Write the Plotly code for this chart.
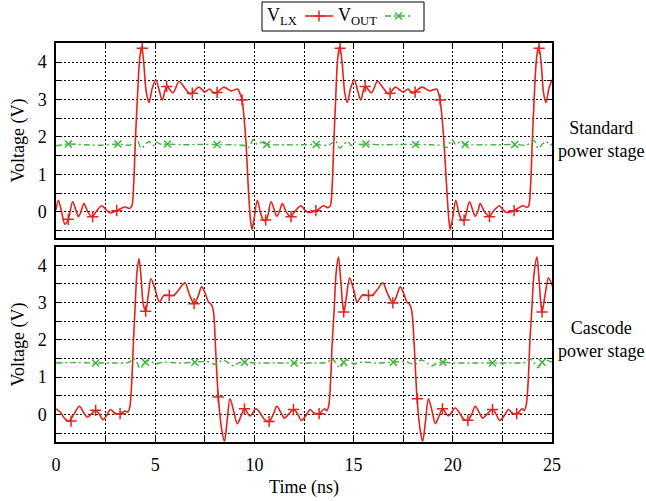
import plotly.graph_objects as go

# ---------------- data ----------------
# Standard power stage: V_LX (red) curve
vlx_std_t = [0.0, 0.12, 0.3, 0.45, 0.62, 0.84, 1.0, 1.13, 1.27, 1.41, 1.6, 1.82, 2.05, 2.3, 2.5, 2.72, 3.06, 3.25, 3.48, 3.7, 3.82,
             3.92, 4.0, 4.1, 4.22, 4.32, 4.42, 4.55, 4.69, 4.85, 5.03, 5.2, 5.36, 5.58, 5.9, 6.2, 6.5, 6.75, 6.87, 7.2, 7.5, 7.75, 7.95,
             8.12, 8.45, 8.85, 9.15, 9.3, 9.38, 9.48, 9.57, 9.7, 9.8, 9.88, 9.98,
             10.15, 10.3, 10.45, 10.6, 10.84, 11.0, 11.13, 11.27, 11.41, 11.6, 11.83, 12.05, 12.35, 12.5, 12.72, 13.1, 13.25, 13.48, 13.7, 13.82,
             13.92, 14.0, 14.08, 14.2, 14.3, 14.42, 14.55, 14.68, 14.85, 15.03, 15.2, 15.36, 15.58, 15.9, 16.2, 16.5, 16.75, 16.84, 17.1, 17.5, 17.75, 17.95,
             18.1, 18.45, 18.85, 19.19, 19.3, 19.36, 19.46, 19.55, 19.7, 19.8, 19.87, 19.98,
             20.15, 20.3, 20.45, 20.57, 20.84, 21.0, 21.13, 21.27, 21.38, 21.6, 21.85, 22.05, 22.35, 22.5, 22.72, 23.09, 23.25, 23.53, 23.72, 23.82,
             23.92, 24.0, 24.1, 24.22, 24.33, 24.45, 24.57, 24.69, 24.85, 25.0]
vlx_std_v = [0.05, 0.31, -0.05, -0.33, -0.2, 0.27, 0.05, -0.13, 0.02, 0.22, 0.0, -0.13, 0.02, 0.16, 0.07, -0.03, 0.03, 0.08, 0.13, 0.09, 0.15,
             0.8, 1.9, 3.0, 4.1, 4.42, 4.0, 3.2, 2.92, 3.3, 3.53, 3.25, 2.99, 3.35, 3.18, 3.48, 3.3, 3.15, 3.17, 3.33, 3.2, 3.28, 3.17,
             3.19, 3.33, 3.23, 3.28, 3.12, 2.99, 2.5, 1.9, 0.58, -0.2, -0.47, -0.2,
             0.31, -0.02, -0.22, -0.22, 0.27, 0.05, -0.12, 0.02, 0.22, 0.0, -0.13, 0.02, 0.16, 0.07, -0.02, 0.03, 0.08, 0.16, 0.11, 0.15,
             0.7, 1.8, 2.8, 4.1, 4.42, 4.0, 3.2, 2.92, 3.3, 3.53, 3.25, 2.99, 3.35, 3.18, 3.48, 3.3, 3.15, 3.17, 3.33, 3.2, 3.28, 3.17,
             3.2, 3.33, 3.23, 3.28, 3.12, 2.99, 2.5, 1.9, 0.58, -0.2, -0.47, -0.2,
             0.31, -0.02, -0.22, -0.22, 0.27, 0.05, -0.12, 0.02, 0.22, 0.0, -0.12, 0.02, 0.16, 0.07, -0.02, 0.03, 0.08, 0.16, 0.12, 0.15,
             0.7, 1.8, 3.0, 4.1, 4.42, 4.0, 3.2, 2.92, 3.3, 3.53]
vlx_std_mark_t = [0.62, 1.85, 3.06, 4.35, 5.58, 6.87, 8.12, 9.38, 10.57, 11.85, 13.1, 14.32, 15.58, 16.84, 18.1, 19.36, 20.57, 21.85, 23.09, 24.35]
vlx_std_mark_v = [-0.2, -0.13, 0.03, 4.37, 3.35, 3.17, 3.19, 2.99, -0.22, -0.13, 0.03, 4.37, 3.35, 3.17, 3.2, 2.99, -0.22, -0.13, 0.03, 4.37]

# Standard power stage: V_OUT (green) curve
vout_std_t = [0.0, 0.3, 0.62, 1.5, 2.3, 3.12, 3.7, 3.95, 4.1, 4.3, 4.5, 4.7, 4.9, 5.05, 5.3, 5.62, 6.4, 7.2, 8.12, 8.9, 9.5, 9.7, 9.95,
              10.15, 10.35, 10.62, 11.5, 12.3, 13.12, 13.7, 13.95, 14.1, 14.3, 14.5, 14.7, 14.9, 15.05, 15.3, 15.62, 16.4, 17.2, 18.12,
              18.9, 19.5, 19.7, 19.95, 20.15, 20.35, 20.62, 21.5, 22.3, 23.12, 23.7, 23.95, 24.1, 24.3, 24.5, 24.7, 24.9, 25.0]
vout_std_v = [1.76, 1.79, 1.81, 1.79, 1.78, 1.81, 1.78, 1.85, 1.90, 1.70, 1.80, 1.88, 1.77, 1.86, 1.80, 1.81, 1.79, 1.80, 1.80, 1.79, 1.77, 1.72, 1.93,
              1.80, 1.86, 1.80, 1.79, 1.79, 1.80, 1.78, 1.85, 1.90, 1.70, 1.80, 1.88, 1.77, 1.86, 1.80, 1.81, 1.79, 1.80, 1.80,
              1.79, 1.77, 1.72, 1.93, 1.80, 1.86, 1.80, 1.79, 1.79, 1.80, 1.78, 1.85, 1.90, 1.70, 1.80, 1.88, 1.77, 1.82]
vout_std_mark_t = [0.62, 3.12, 5.62, 8.12, 10.62, 13.12, 15.62, 18.12, 20.62, 23.12]
vout_std_mark_v = [1.81, 1.81, 1.81, 1.80, 1.80, 1.80, 1.81, 1.80, 1.80, 1.80]

# Cascode power stage: V_LX (red) curve
vlx_cas_t = [0.0, 0.2, 0.45, 0.65, 0.9, 1.18, 1.38, 1.58, 1.8, 2.0, 2.15, 2.37, 2.55, 2.75, 2.97, 3.23, 3.48, 3.62, 3.72,
             3.82, 3.9, 3.98, 4.08, 4.18, 4.3, 4.4, 4.52, 4.65, 4.79, 5.0, 5.21, 5.45, 5.71, 5.95, 6.2, 6.5, 6.7, 6.96, 7.15, 7.34, 7.52, 7.68, 7.85,
             7.95, 8.03, 8.18, 8.35, 8.49, 8.62, 8.77, 8.95, 9.14, 9.32, 9.5, 9.78,
             10.08, 10.3, 10.5, 10.74, 10.95, 11.13, 11.32, 11.51, 11.75, 11.97, 12.15, 12.37, 12.6, 12.81, 13.0, 13.26, 13.53, 13.65, 13.75,
             13.84, 13.92, 14.02, 14.12, 14.24, 14.35, 14.45, 14.52, 14.65, 14.8, 15.0, 15.18, 15.45, 15.75, 15.95, 16.2, 16.47, 16.7, 16.98, 17.15, 17.35, 17.52, 17.68, 17.85,
             17.95, 18.05, 18.2, 18.35, 18.48, 18.62, 18.77, 18.95, 19.12, 19.3, 19.48, 19.78,
             20.12, 20.35, 20.55, 20.76, 20.95, 21.13, 21.32, 21.51, 21.75, 22.0, 22.15, 22.37, 22.6, 22.8, 23.0, 23.24, 23.5, 23.6, 23.7,
             23.8, 23.88, 23.98, 24.1, 24.24, 24.35, 24.44, 24.5, 24.65, 24.82, 25.0]
vlx_cas_v = [0.15, 0.07, -0.12, -0.18, 0.0, 0.22, 0.06, -0.07, 0.02, 0.11, 0.04, -0.14, -0.03, 0.13, 0.03, 0.02, 0.09, 0.06, 0.2,
             0.9, 1.9, 2.8, 3.8, 4.18, 3.6, 2.95, 2.77, 3.2, 3.64, 3.35, 3.02, 3.2, 3.19, 3.2, 3.35, 3.53, 3.25, 2.97, 3.15, 3.42, 3.25, 3.02, 2.93,
             2.7, 1.9, 0.47, -0.4, -0.72, -0.2, 0.42, 0.1, -0.25, -0.05, 0.15, -0.04,
             0.15, 0.03, -0.13, -0.19, 0.0, 0.22, 0.06, -0.1, 0.02, 0.13, 0.04, -0.16, -0.03, 0.13, 0.04, 0.02, 0.15, 0.1, 0.25,
             0.9, 1.9, 2.8, 3.8, 4.22, 3.6, 2.95, 2.75, 3.2, 3.66, 3.35, 3.02, 3.2, 3.19, 3.2, 3.35, 3.53, 3.25, 2.99, 3.15, 3.42, 3.25, 3.02, 2.93,
             2.7, 1.9, 0.42, -0.4, -0.72, -0.2, 0.42, 0.1, -0.25, -0.05, 0.15, -0.04,
             0.17, 0.03, -0.13, -0.16, 0.0, 0.22, 0.06, -0.1, 0.02, 0.13, 0.04, -0.16, -0.03, 0.13, 0.04, 0.02, 0.15, 0.1, 0.25,
             0.9, 1.9, 2.8, 3.8, 4.22, 3.6, 2.95, 2.75, 3.2, 3.66, 3.46]
vlx_cas_mark_t = [0.76, 2.0, 3.23, 4.52, 5.71, 6.96, 8.18, 9.5, 10.74, 11.97, 13.26, 14.5, 15.75, 16.98, 18.22, 19.48, 20.76, 22.0, 23.22, 24.5]
vlx_cas_mark_v = [-0.18, 0.11, 0.02, 2.77, 3.19, 2.97, 0.47, 0.15, -0.19, 0.13, 0.02, 2.75, 3.19, 2.99, 0.42, 0.15, -0.16, 0.13, 0.02, 2.75]

# Cascode power stage: V_OUT (green) curve
vout_cas_t = [0.0, 1.0, 2.0, 3.0, 3.7, 3.9, 4.05, 4.25, 4.5, 4.7, 5.0, 5.4, 6.2, 7.0, 7.6, 7.9, 8.1, 8.4, 8.7, 8.95, 9.2, 9.5,
              10.0, 11.0, 12.0, 13.0, 13.7, 13.85, 14.05, 14.3, 14.5, 14.7, 15.0, 15.4, 16.2, 17.0, 17.6, 17.9, 18.1, 18.4, 18.7, 18.95, 19.2, 19.5,
              20.0, 21.0, 22.0, 23.0, 23.7, 23.85, 24.05, 24.3, 24.5, 24.7, 25.0]
vout_cas_v = [1.38, 1.39, 1.38, 1.38, 1.40, 1.50, 1.42, 1.23, 1.40, 1.45, 1.36, 1.40, 1.38, 1.40, 1.42, 1.36, 1.34, 1.46, 1.38, 1.30, 1.38, 1.40,
              1.38, 1.38, 1.38, 1.38, 1.40, 1.50, 1.42, 1.25, 1.40, 1.45, 1.36, 1.40, 1.38, 1.40, 1.42, 1.36, 1.34, 1.46, 1.38, 1.30, 1.38, 1.40,
              1.38, 1.38, 1.38, 1.38, 1.40, 1.50, 1.42, 1.25, 1.40, 1.45, 1.40]
vout_cas_mark_t = [2.0, 4.5, 7.0, 9.5, 12.0, 14.5, 17.0, 19.5, 22.0, 24.5]
vout_cas_mark_v = [1.38, 1.40, 1.40, 1.40, 1.38, 1.40, 1.40, 1.40, 1.38, 1.40]

# ---------------- styling ----------------
RED = '#e3231b'
GREEN = '#3db43a'
FONT = 'Liberation Serif, Times New Roman, Times, serif'
FS = 18
green_dash = '6px,3px,2px,3px'

fig = go.Figure()

def add_panel(t, v, mt, mv, gt, gv, gmt, gmv, xa, ya):
    fig.add_trace(go.Scatter(x=t, y=v, mode='lines', line=dict(color=RED, width=1.6, shape='spline', smoothing=0.9),
                             xaxis=xa, yaxis=ya, showlegend=False, hoverinfo='skip'))
    fig.add_trace(go.Scatter(x=mt, y=mv, mode='markers',
                             marker=dict(symbol='cross-thin', size=8, line=dict(color=RED, width=1.5)),
                             xaxis=xa, yaxis=ya, showlegend=False, hoverinfo='skip'))
    fig.add_trace(go.Scatter(x=gt, y=gv, mode='lines', line=dict(color=GREEN, width=1.4, dash=green_dash, shape='spline', smoothing=0.9),
                             xaxis=xa, yaxis=ya, showlegend=False, hoverinfo='skip'))
    fig.add_trace(go.Scatter(x=gmt, y=gmv, mode='markers',
                             marker=dict(symbol='x-thin', size=7, line=dict(color=GREEN, width=1.5)),
                             xaxis=xa, yaxis=ya, showlegend=False, hoverinfo='skip'))

add_panel(vlx_std_t, vlx_std_v, vlx_std_mark_t, vlx_std_mark_v, vout_std_t, vout_std_v, vout_std_mark_t, vout_std_mark_v, 'x', 'y')
add_panel(vlx_cas_t, vlx_cas_v, vlx_cas_mark_t, vlx_cas_mark_v, vout_cas_t, vout_cas_v, vout_cas_mark_t, vout_cas_mark_v, 'x2', 'y2')

# legend samples drawn on a hidden helper axis (pixel-like coordinates)
LEG_RED_X = [305, 333]
LEG_GREEN_X = [385, 412]
LEG_Y = 16
fig.add_trace(go.Scatter(x=LEG_RED_X, y=[LEG_Y, LEG_Y], mode='lines', line=dict(color=RED, width=1.6),
                         xaxis='x3', yaxis='y3', showlegend=False, hoverinfo='skip'))
fig.add_trace(go.Scatter(x=[sum(LEG_RED_X) / 2], y=[LEG_Y], mode='markers',
                         marker=dict(symbol='cross-thin', size=8, line=dict(color=RED, width=1.5)),
                         xaxis='x3', yaxis='y3', showlegend=False, hoverinfo='skip'))
fig.add_trace(go.Scatter(x=LEG_GREEN_X, y=[LEG_Y, LEG_Y], mode='lines', line=dict(color=GREEN, width=1.4, dash=green_dash),
                         xaxis='x3', yaxis='y3', showlegend=False, hoverinfo='skip'))
fig.add_trace(go.Scatter(x=[sum(LEG_GREEN_X) / 2], y=[LEG_Y], mode='markers',
                         marker=dict(symbol='x-thin', size=7, line=dict(color=GREEN, width=1.5)),
                         xaxis='x3', yaxis='y3', showlegend=False, hoverinfo='skip'))

GRID_DASH = '2px,2px'
def axis_common(dtick_major, dtick_minor):
    return dict(showline=True, mirror='allticks', linecolor='black', linewidth=1.5,
                ticks='inside', ticklen=5, tickcolor='black', tickwidth=1,
                tickmode='linear', tick0=0, dtick=dtick_major,
                showgrid=True, gridcolor='black', griddash=GRID_DASH, gridwidth=1, zeroline=False,
                minor=dict(dtick=dtick_minor, tick0=0, ticks='inside', ticklen=5, tickcolor='black', tickwidth=1,
                           showgrid=True, gridcolor='black', griddash=GRID_DASH, gridwidth=1),
                tickfont=dict(family=FONT, size=FS, color='black'))

H_PAPER = 442.0
fig.update_layout(
    width=646, height=501,
    margin=dict(l=56, r=94, t=0, b=59, autoexpand=False),
    paper_bgcolor='white', plot_bgcolor='white',
    font=dict(family=FONT, size=FS, color='black'),
    xaxis=dict(domain=[0, 1], range=[0, 25], anchor='y', showticklabels=False, **axis_common(5, 2.5)),
    yaxis=dict(domain=[(H_PAPER - 238) / H_PAPER, (H_PAPER - 43) / H_PAPER], range=[-0.7, 4.51], anchor='x',
               ticklabelstandoff=4,
               title=dict(text='Voltage (V)', font=dict(family=FONT, size=FS), standoff=8), **axis_common(1, 0.5)),
    xaxis2=dict(domain=[0, 1], range=[0, 25], anchor='y2', ticklabelstandoff=6,
                title=dict(text='Time (ns)', font=dict(family=FONT, size=FS), standoff=6), **axis_common(5, 2.5)),
    yaxis2=dict(domain=[0, (H_PAPER - 247) / H_PAPER], range=[-0.74, 4.49], anchor='x2', ticklabelstandoff=4,
                title=dict(text='Voltage (V)', font=dict(family=FONT, size=FS), standoff=8), **axis_common(1, 0.5)),
    xaxis3=dict(domain=[0, 1], range=[56, 552], anchor='y3', visible=False, fixedrange=True),
    yaxis3=dict(domain=[(H_PAPER - 35) / H_PAPER, 1], range=[35, 0], anchor='x3', visible=False, fixedrange=True),
    showlegend=False,
)

# legend box and labels
fig.add_shape(type='rect', xref='x3', yref='y3', x0=262, x1=424, y0=2, y1=31,
              line=dict(color='black', width=1), fillcolor='rgba(0,0,0,0)')
fig.add_annotation(xref='x3', yref='y3', x=265, y=LEG_Y, text='V<sub>LX</sub>', showarrow=False,
                   xanchor='left', yanchor='middle', font=dict(family=FONT, size=FS, color='black'))
fig.add_annotation(xref='x3', yref='y3', x=336, y=LEG_Y, text='V<sub>OUT</sub>', showarrow=False,
                   xanchor='left', yanchor='middle', font=dict(family=FONT, size=FS, color='black'))

# right-side panel labels
fig.add_annotation(xref='paper', yref='paper', x=(601 - 56) / 496, y=(H_PAPER - 139) / H_PAPER,
                   text='Standard<br>power stage', showarrow=False, xanchor='center', yanchor='middle',
                   font=dict(family=FONT, size=FS, color='black'))
fig.add_annotation(xref='paper', yref='paper', x=(601 - 56) / 496, y=(H_PAPER - 339) / H_PAPER,
                   text='Cascode<br>power stage', showarrow=False, xanchor='center', yanchor='middle',
                   font=dict(family=FONT, size=FS, color='black'))

fig.write_html('out.html', config={'displayModeBar': False},
               post_script="document.body.style.margin='0px';")
